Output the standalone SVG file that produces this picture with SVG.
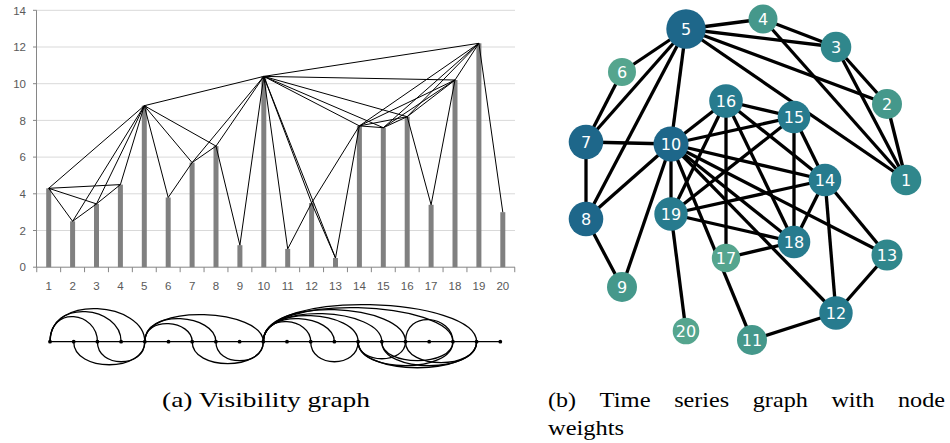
<svg xmlns="http://www.w3.org/2000/svg" width="950" height="443" viewBox="0 0 950 443">
<style>
.grid{stroke:#d9d9d9;stroke-width:1}
.axis{stroke:#868686;stroke-width:1;fill:none}
.bar{fill:#808080}
.tl{font-family:"Liberation Sans",Arial,sans-serif;font-size:11.5px;fill:#595959}
.vg line{stroke:#000;stroke-width:1}
.arc path{stroke:#000;stroke-width:1.3;fill:none}
.tg line{stroke:#000;stroke-width:3.3}
.nl{font-family:"DejaVu Sans",sans-serif;font-size:16px;fill:#fff;text-anchor:middle}
.cap{font-family:"Liberation Serif","Times New Roman",serif;font-size:22px;fill:#000}
.c0{fill:#1e678a}.c1{fill:#277b8e}.c2{fill:#30878c}.c3{fill:#45988b}.c4{fill:#55a58e}
</style>
<!-- panel a: chart -->
<g id="chart-grid">
<line class="grid" x1="36" y1="10.3" x2="515" y2="10.3"/>
<line class="grid" x1="36" y1="47" x2="515" y2="47"/>
<line class="grid" x1="36" y1="83.7" x2="515" y2="83.7"/>
<line class="grid" x1="36" y1="120.4" x2="515" y2="120.4"/>
<line class="grid" x1="36" y1="157.1" x2="515" y2="157.1"/>
<line class="grid" x1="36" y1="193.8" x2="515" y2="193.8"/>
<line class="grid" x1="36" y1="230.5" x2="515" y2="230.5"/>
</g>
<g id="chart-bars">
<rect class="bar" x="46.2" y="188.3" width="5" height="78.9"/>
<rect class="bar" x="70.1" y="221.3" width="5" height="45.9"/>
<rect class="bar" x="94" y="203.9" width="5" height="63.3"/>
<rect class="bar" x="117.9" y="184.6" width="5" height="82.6"/>
<rect class="bar" x="141.8" y="105.7" width="5" height="161.5"/>
<rect class="bar" x="165.7" y="197.5" width="5" height="69.7"/>
<rect class="bar" x="189.6" y="162.6" width="5" height="104.6"/>
<rect class="bar" x="213.5" y="146.1" width="5" height="121.1"/>
<rect class="bar" x="237.4" y="245.2" width="5" height="22"/>
<rect class="bar" x="261.3" y="76.4" width="5" height="190.8"/>
<rect class="bar" x="285.2" y="248.9" width="5" height="18.3"/>
<rect class="bar" x="309.1" y="203" width="5" height="64.2"/>
<rect class="bar" x="333" y="258" width="5" height="9.2"/>
<rect class="bar" x="356.9" y="125.9" width="5" height="141.3"/>
<rect class="bar" x="380.8" y="127.7" width="5" height="139.5"/>
<rect class="bar" x="404.7" y="116.7" width="5" height="150.5"/>
<rect class="bar" x="428.6" y="204.8" width="5" height="62.4"/>
<rect class="bar" x="452.5" y="80" width="5" height="187.2"/>
<rect class="bar" x="476.4" y="43.3" width="5" height="223.9"/>
<rect class="bar" x="500.3" y="212.2" width="5" height="55"/>
</g>
<g id="chart-axes">
<path class="axis" d="M36.5 10.3V267.2M33 10.3H36.5M33 47H36.5M33 83.7H36.5M33 120.4H36.5M33 157.1H36.5M33 193.8H36.5M33 230.5H36.5M33 267.2H515"/>
<path class="axis" d="M36.75 267.2v5M60.65 267.2v5M84.55 267.2v5M108.45 267.2v5M132.35 267.2v5M156.25 267.2v5M180.15 267.2v5M204.05 267.2v5M227.95 267.2v5M251.85 267.2v5M275.75 267.2v5M299.65 267.2v5M323.55 267.2v5M347.45 267.2v5M371.35 267.2v5M395.25 267.2v5M419.15 267.2v5M443.05 267.2v5M466.95 267.2v5M490.85 267.2v5M514.75 267.2v5"/>
</g>
<g id="chart-labels" class="tl">
<g text-anchor="end">
<text x="26" y="14.5">14</text>
<text x="26" y="51.2">12</text>
<text x="26" y="87.9">10</text>
<text x="26" y="124.6">8</text>
<text x="26" y="161.3">6</text>
<text x="26" y="198">4</text>
<text x="26" y="234.7">2</text>
<text x="26" y="271.4">0</text>
</g>
<g text-anchor="middle">
<text x="48.7" y="289.5">1</text>
<text x="72.6" y="289.5">2</text>
<text x="96.5" y="289.5">3</text>
<text x="120.4" y="289.5">4</text>
<text x="144.3" y="289.5">5</text>
<text x="168.2" y="289.5">6</text>
<text x="192.1" y="289.5">7</text>
<text x="216" y="289.5">8</text>
<text x="239.9" y="289.5">9</text>
<text x="263.8" y="289.5">10</text>
<text x="287.7" y="289.5">11</text>
<text x="311.6" y="289.5">12</text>
<text x="335.5" y="289.5">13</text>
<text x="359.4" y="289.5">14</text>
<text x="383.3" y="289.5">15</text>
<text x="407.2" y="289.5">16</text>
<text x="431.1" y="289.5">17</text>
<text x="455" y="289.5">18</text>
<text x="478.9" y="289.5">19</text>
<text x="502.8" y="289.5">20</text>
</g>
</g>
<g id="chart-connectors" class="vg">
<line x1="48.7" y1="188.3" x2="72.6" y2="221.3"/>
<line x1="72.6" y1="221.3" x2="96.5" y2="203.9"/>
<line x1="96.5" y1="203.9" x2="120.4" y2="184.6"/>
<line x1="120.4" y1="184.6" x2="144.3" y2="105.7"/>
<line x1="144.3" y1="105.7" x2="168.2" y2="197.5"/>
<line x1="168.2" y1="197.5" x2="192.1" y2="162.6"/>
<line x1="192.1" y1="162.6" x2="216" y2="146.1"/>
<line x1="216" y1="146.1" x2="239.9" y2="245.2"/>
<line x1="239.9" y1="245.2" x2="263.8" y2="76.4"/>
<line x1="263.8" y1="76.4" x2="287.7" y2="248.9"/>
<line x1="287.7" y1="248.9" x2="311.6" y2="203"/>
<line x1="311.6" y1="203" x2="335.5" y2="258"/>
<line x1="335.5" y1="258" x2="359.4" y2="125.9"/>
<line x1="359.4" y1="125.9" x2="383.3" y2="127.7"/>
<line x1="383.3" y1="127.7" x2="407.2" y2="116.7"/>
<line x1="407.2" y1="116.7" x2="431.1" y2="204.8"/>
<line x1="431.1" y1="204.8" x2="455" y2="80"/>
<line x1="455" y1="80" x2="478.9" y2="43.3"/>
<line x1="478.9" y1="43.3" x2="502.8" y2="212.2"/>
<line x1="48.7" y1="188.3" x2="96.5" y2="203.9"/>
<line x1="48.7" y1="188.3" x2="120.4" y2="184.6"/>
<line x1="48.7" y1="188.3" x2="144.3" y2="105.7"/>
<line x1="72.6" y1="221.3" x2="144.3" y2="105.7"/>
<line x1="96.5" y1="203.9" x2="144.3" y2="105.7"/>
<line x1="144.3" y1="105.7" x2="192.1" y2="162.6"/>
<line x1="144.3" y1="105.7" x2="216" y2="146.1"/>
<line x1="144.3" y1="105.7" x2="263.8" y2="76.4"/>
<line x1="192.1" y1="162.6" x2="263.8" y2="76.4"/>
<line x1="216" y1="146.1" x2="263.8" y2="76.4"/>
<line x1="263.8" y1="76.4" x2="311.6" y2="203"/>
<line x1="263.8" y1="76.4" x2="335.5" y2="258"/>
<line x1="263.8" y1="76.4" x2="359.4" y2="125.9"/>
<line x1="263.8" y1="76.4" x2="383.3" y2="127.7"/>
<line x1="263.8" y1="76.4" x2="407.2" y2="116.7"/>
<line x1="263.8" y1="76.4" x2="455" y2="80"/>
<line x1="263.8" y1="76.4" x2="478.9" y2="43.3"/>
<line x1="311.6" y1="203" x2="359.4" y2="125.9"/>
<line x1="359.4" y1="125.9" x2="407.2" y2="116.7"/>
<line x1="359.4" y1="125.9" x2="455" y2="80"/>
<line x1="359.4" y1="125.9" x2="478.9" y2="43.3"/>
<line x1="383.3" y1="127.7" x2="455" y2="80"/>
<line x1="383.3" y1="127.7" x2="478.9" y2="43.3"/>
<line x1="407.2" y1="116.7" x2="455" y2="80"/>
<line x1="407.2" y1="116.7" x2="478.9" y2="43.3"/>
</g>
<!-- arc diagram -->
<g id="arc-connectors" class="arc">
<path d="M50 341.7H500.3"/>
<path d="M50 341.7C50 305 97.4 311.7 97.4 341.7"/>
<path d="M50 341.7C50 297.7 121.1 305.7 121.1 341.7"/>
<path d="M50 341.7C50 293.3 144.8 302.1 144.8 341.7"/>
<path d="M73.7 341.7C73.7 372.4 144.8 372.4 144.8 341.7"/>
<path d="M97.4 341.7C97.4 368.4 144.8 368.4 144.8 341.7"/>
<path d="M144.8 341.7C144.8 315.3 192.2 320.1 192.2 341.7"/>
<path d="M144.8 341.7C144.8 308 215.9 314.1 215.9 341.7"/>
<path d="M144.8 341.7C144.8 302.1 263.3 309.3 263.3 341.7"/>
<path d="M192.2 341.7C192.2 371 263.3 371 263.3 341.7"/>
<path d="M215.9 341.7C215.9 367 263.3 367 263.3 341.7"/>
<path d="M263.3 341.7C263.3 312.4 310.7 317.7 310.7 341.7"/>
<path d="M263.3 341.7C263.3 308 334.4 314.1 334.4 341.7"/>
<path d="M263.3 341.7C263.3 303.6 358.1 310.5 358.1 341.7"/>
<path d="M263.3 341.7C263.3 300.6 381.8 308.1 381.8 341.7"/>
<path d="M263.3 341.7C263.3 294.8 405.5 303.3 405.5 341.7"/>
<path d="M263.3 341.7C263.3 291.8 452.9 300.9 452.9 341.7"/>
<path d="M263.3 341.7C263.3 287.4 476.6 297.3 476.6 341.7"/>
<path d="M405.5 341.7C405.5 309.4 452.9 315.3 452.9 341.7"/>
<path d="M310.7 341.7C310.7 368.4 358.1 368.4 358.1 341.7"/>
<path d="M358.1 341.7C358.1 364.4 405.5 364.4 405.5 341.7"/>
<path d="M358.1 341.7C358.1 373.7 452.9 373.7 452.9 341.7"/>
<path d="M358.1 341.7C358.1 376.4 476.6 376.4 476.6 341.7"/>
<path d="M381.8 341.7C381.8 367 452.9 367 452.9 341.7"/>
<path d="M381.8 341.7C381.8 373.7 476.6 373.7 476.6 341.7"/>
<path d="M405.5 341.7C405.5 369.7 476.6 369.7 476.6 341.7"/>
</g>
<g id="arc-nodes" fill="#000">
<circle cx="50" cy="341.7" r="1.9"/><circle cx="73.7" cy="341.7" r="1.9"/><circle cx="97.4" cy="341.7" r="1.9"/><circle cx="121.1" cy="341.7" r="1.9"/><circle cx="144.8" cy="341.7" r="1.9"/><circle cx="168.5" cy="341.7" r="1.9"/><circle cx="192.2" cy="341.7" r="1.9"/><circle cx="215.9" cy="341.7" r="1.9"/><circle cx="239.6" cy="341.7" r="1.9"/><circle cx="263.3" cy="341.7" r="1.9"/><circle cx="287" cy="341.7" r="1.9"/><circle cx="310.7" cy="341.7" r="1.9"/><circle cx="334.4" cy="341.7" r="1.9"/><circle cx="358.1" cy="341.7" r="1.9"/><circle cx="381.8" cy="341.7" r="1.9"/><circle cx="405.5" cy="341.7" r="1.9"/><circle cx="429.2" cy="341.7" r="1.9"/><circle cx="452.9" cy="341.7" r="1.9"/><circle cx="476.6" cy="341.7" r="1.9"/><circle cx="500.3" cy="341.7" r="1.9"/>
</g>
<!-- panel b -->
<g id="tsg-connectors" class="tg">
<line x1="906" y1="180" x2="887" y2="104"/>
<line x1="887" y1="104" x2="836" y2="47"/>
<line x1="836" y1="47" x2="763" y2="19"/>
<line x1="763" y1="19" x2="686" y2="29"/>
<line x1="686" y1="29" x2="622" y2="72"/>
<line x1="622" y1="72" x2="586" y2="142"/>
<line x1="586" y1="142" x2="586" y2="219"/>
<line x1="586" y1="219" x2="622" y2="287"/>
<line x1="622" y1="287" x2="671" y2="144"/>
<line x1="671" y1="144" x2="752" y2="340"/>
<line x1="752" y1="340" x2="836" y2="313"/>
<line x1="836" y1="313" x2="887" y2="255"/>
<line x1="887" y1="255" x2="825" y2="180"/>
<line x1="825" y1="180" x2="794" y2="117"/>
<line x1="794" y1="117" x2="726" y2="101"/>
<line x1="726" y1="101" x2="726" y2="258"/>
<line x1="726" y1="258" x2="794" y2="242"/>
<line x1="794" y1="242" x2="671" y2="214"/>
<line x1="671" y1="214" x2="686" y2="331"/>
<line x1="906" y1="180" x2="836" y2="47"/>
<line x1="906" y1="180" x2="763" y2="19"/>
<line x1="906" y1="180" x2="686" y2="29"/>
<line x1="887" y1="104" x2="686" y2="29"/>
<line x1="836" y1="47" x2="686" y2="29"/>
<line x1="686" y1="29" x2="586" y2="142"/>
<line x1="686" y1="29" x2="586" y2="219"/>
<line x1="686" y1="29" x2="671" y2="144"/>
<line x1="586" y1="142" x2="671" y2="144"/>
<line x1="586" y1="219" x2="671" y2="144"/>
<line x1="671" y1="144" x2="836" y2="313"/>
<line x1="671" y1="144" x2="887" y2="255"/>
<line x1="671" y1="144" x2="825" y2="180"/>
<line x1="671" y1="144" x2="794" y2="117"/>
<line x1="671" y1="144" x2="726" y2="101"/>
<line x1="671" y1="144" x2="794" y2="242"/>
<line x1="671" y1="144" x2="671" y2="214"/>
<line x1="836" y1="313" x2="825" y2="180"/>
<line x1="825" y1="180" x2="726" y2="101"/>
<line x1="825" y1="180" x2="794" y2="242"/>
<line x1="825" y1="180" x2="671" y2="214"/>
<line x1="794" y1="117" x2="794" y2="242"/>
<line x1="794" y1="117" x2="671" y2="214"/>
<line x1="726" y1="101" x2="794" y2="242"/>
<line x1="726" y1="101" x2="671" y2="214"/>
</g>
<g id="n1"><circle class="c2" cx="906" cy="180" r="15.3"/><text class="nl" x="906" y="186">1</text></g>
<g id="n2"><circle class="c3" cx="887" cy="104" r="15"/><text class="nl" x="887" y="110">2</text></g>
<g id="n3"><circle class="c2" cx="836" cy="47" r="15.3"/><text class="nl" x="836" y="53">3</text></g>
<g id="n4"><circle class="c3" cx="763" cy="19" r="14.5"/><text class="nl" x="763" y="25">4</text></g>
<g id="n5"><circle class="c0" cx="686" cy="29" r="19.7"/><text class="nl" x="686" y="35">5</text></g>
<g id="n6"><circle class="c4" cx="622" cy="72" r="14"/><text class="nl" x="622" y="78">6</text></g>
<g id="n7"><circle class="c0" cx="586" cy="142" r="17.3"/><text class="nl" x="586" y="148">7</text></g>
<g id="n8"><circle class="c0" cx="586" cy="219" r="17.3"/><text class="nl" x="586" y="225">8</text></g>
<g id="n9"><circle class="c3" cx="622" cy="287" r="15"/><text class="nl" x="622" y="293">9</text></g>
<g id="n10"><circle class="c0" cx="671" cy="144" r="17.5"/><text class="nl" x="671" y="150">10</text></g>
<g id="n11"><circle class="c3" cx="752" cy="340" r="15"/><text class="nl" x="752" y="346">11</text></g>
<g id="n12"><circle class="c1" cx="836" cy="313" r="16.7"/><text class="nl" x="836" y="319">12</text></g>
<g id="n13"><circle class="c2" cx="887" cy="255" r="15.5"/><text class="nl" x="887" y="261">13</text></g>
<g id="n14"><circle class="c1" cx="825" cy="180" r="16.3"/><text class="nl" x="825" y="186">14</text></g>
<g id="n15"><circle class="c1" cx="794" cy="117" r="16.3"/><text class="nl" x="794" y="123">15</text></g>
<g id="n16"><circle class="c1" cx="726" cy="101" r="16.8"/><text class="nl" x="726" y="107">16</text></g>
<g id="n17"><circle class="c4" cx="726" cy="258" r="14.2"/><text class="nl" x="726" y="264">17</text></g>
<g id="n18"><circle class="c1" cx="794" cy="242" r="16.3"/><text class="nl" x="794" y="248">18</text></g>
<g id="n19"><circle class="c1" cx="671" cy="214" r="16.7"/><text class="nl" x="671" y="220">19</text></g>
<g id="n20"><circle class="c4" cx="686" cy="331" r="13.3"/><text class="nl" x="686" y="337">20</text></g>
<!-- captions -->
<text class="cap" x="162" y="407" textLength="208" lengthAdjust="spacingAndGlyphs">(a) Visibility graph</text>
<g id="caption-b" class="cap">
<text x="548" y="407" textLength="28" lengthAdjust="spacingAndGlyphs">(b)</text>
<text x="599.6" y="407" textLength="51" lengthAdjust="spacingAndGlyphs">Time</text>
<text x="674.2" y="407" textLength="55" lengthAdjust="spacingAndGlyphs">series</text>
<text x="752.8" y="407" textLength="55" lengthAdjust="spacingAndGlyphs">graph</text>
<text x="831.4" y="407" textLength="43" lengthAdjust="spacingAndGlyphs">with</text>
<text x="898" y="407" textLength="47" lengthAdjust="spacingAndGlyphs">node</text>
<text x="548" y="435" textLength="76" lengthAdjust="spacingAndGlyphs">weights</text>
</g>
</svg>
